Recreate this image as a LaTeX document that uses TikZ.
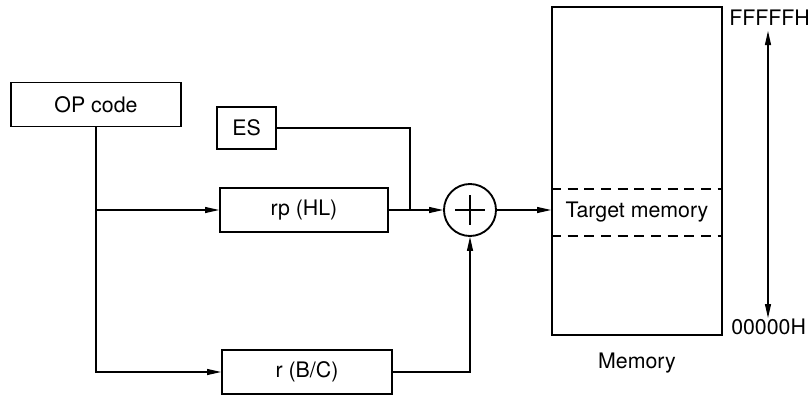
\documentclass[tikz,border=0pt]{standalone}
\usepackage{fontspec}
\setmainfont{TeX Gyre Heros}
\usepackage{tikz}
\usetikzlibrary{arrows.meta, calc}

\begin{document}
\begin{tikzpicture}[
    x=0.75pt, y=-0.75pt,
    font=\fontsize{16}{19}\selectfont,
    regbox/.style={rectangle, draw=black, line width=1.4pt,
                   minimum height=33pt, inner sep=0pt},
    membox/.style={rectangle, draw=black, line width=1.4pt,
                   minimum width=127.5pt, minimum height=246pt, inner sep=0pt},
    addnode/.style={circle, draw=black, line width=1.4pt,
                    minimum size=39pt, inner sep=0pt},
    wire/.style={draw, line width=0.8pt},
    feed/.style={wire, -{Triangle[length=10.5pt, width=4.5pt]}}
]
\useasboundingbox (0,0) rectangle (811,396);

% registers
\node[regbox, minimum width=127.5pt] (opcode) at (96,104.5) {OP code};
\node[regbox, minimum width=44.25pt, minimum height=31.5pt] (es) at (246.5,128) {ES};
\node[regbox, minimum width=126pt] (rp) at (304,210) {rp (HL)};
\node[regbox, minimum width=127.5pt] (rbc) at (307,372) {r (B/C)};

% adder
\node[addnode] (adder) at (470,210) {};
\draw[line width=0.8pt] ($(adder)+(-15,0)$) -- ($(adder)+(15,0)$)
                        ($(adder)+(0,-15)$) -- ($(adder)+(0,15)$);

% memory
\node[membox] (mem) at (637,171) {};
\node (target) at (637,212) {Target memory};
\draw[line width=0.8pt, dash pattern=on 7.5pt off 5pt]
    (mem.west |- 0,189) -- (mem.east |- 0,189)
    (mem.west |- 0,236) -- (mem.east |- 0,236);
\node (memlabel) at (637,363) {Memory};

% address range
\node[anchor=west, inner sep=0pt] (top) at (729,18) {FFFFFH};
\node[anchor=west, inner sep=0pt] (bottom) at (731,327) {00000H};
\coordinate (hi) at (768,31);
\coordinate (lo) at (768,318);
\draw[wire, {Triangle[length=10.5pt, width=4.5pt]}-{Triangle[length=10.5pt, width=4.5pt]}] (hi) -- (lo);

% connections
\coordinate (split) at (opcode.south |- rp);
\coordinate (join) at (410,210);
\draw[feed] (opcode.south) |- (rbc.west);
\draw[feed] (split) -- (rp.west);
\draw[wire] (es.east) -| (join);
\draw[feed] (rp.east) -- (adder.west);
\draw[feed] (rbc.east) -| (adder.south);
\draw[feed] (adder.east) -- (adder.east -| mem.west);
\end{tikzpicture}
\end{document}
